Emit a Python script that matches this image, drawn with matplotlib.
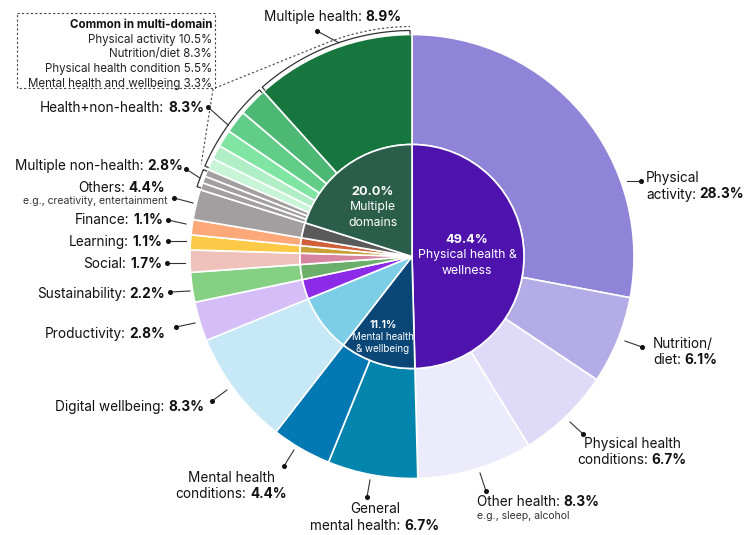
import numpy as np
import matplotlib.pyplot as plt

plt.rcParams["font.family"] = ["Inter", "DejaVu Sans"]

# outer ring, clockwise from 12 o'clock
outer_labels = ["Physical activity", "Nutrition/diet", "Physical health conditions", "Other health",
                "General mental health", "Mental health conditions", "Digital wellbeing", "Productivity",
                "Sustainability", "Social", "Learning", "Finance", "Others",
                "Multiple non-health", "Health+non-health", "Multiple health"]
outer_pct = [28.3, 6.1, 6.7, 8.3, 6.7, 4.4, 8.3, 2.8, 2.2, 1.7, 1.1, 1.1, 4.4, 2.8, 8.3, 8.9]
# arc sizes as drawn in the picture (degrees)
outer_arc = [100.7, 23.0, 24.6, 30.2, 23.6, 15.7, 30.0, 10.3, 7.8, 5.8, 3.9, 4.0, 7.9]
non_health_arc = [1.9, 1.8, 1.9]
health_mix_arc = [3.1, 3.7, 4.5, 6.0, 7.6]
multi_health_arc = 42.0

outer_colors = ["#8f84d8", "#b4ace6", "#dedaf8", "#ebebfb", "#0385ad", "#0478b3", "#c7e8f6",
                "#d5bdf7", "#86d083", "#efc1bb", "#fdca48", "#fda878", "#a39e9f"]
non_health_colors = ["#a39e9f", "#a39e9f", "#a39e9f"]
health_mix_colors = ["#c8f4d8", "#b0eec6", "#80e4a3", "#62cd88", "#4db874"]
multi_health_color = "#17763e"

# inner ring
inner_labels = ["Physical health &\nwellness", "Mental health\n& wellbeing", "Multiple\ndomains"]
inner_pct = [49.4, 11.1, 20.0]
inner_arc = [178.5, 39.3, 30.0, 10.3, 7.8, 5.8, 3.9, 4.0, 7.9, 72.5]
inner_colors = ["#4e13ad", "#0b4776", "#7ccde6", "#8b2be8", "#6caf6a", "#d6849f", "#c9a035",
                "#d0603a", "#5a5a5a", "#2a5e4b"]

common_title = "Common in multi-domain"
common_items = ["Physical activity", "Nutrition/diet", "Physical health condition", "Mental health and wellbeing"]
common_pct = [10.5, 8.3, 5.5, 3.3]

cx, cy = 412, 256.5
R_OUT, R_IN = 222, 112
INK = "#111111"

fig = plt.figure(figsize=(7.44, 5.35), dpi=100)
ax = fig.add_axes([0, 0, 1, 1])

sizes = outer_arc + non_health_arc + health_mix_arc + [multi_health_arc]
cols = outer_colors + non_health_colors + health_mix_colors + [multi_health_color]
# y axis is flipped below, so startangle 270 / counterclock give 12 o'clock / clockwise on screen
ax.pie(sizes, colors=cols, radius=R_OUT, center=(cx, cy), startangle=270, counterclock=True,
       wedgeprops=dict(width=R_OUT - R_IN, edgecolor="white", linewidth=1.2), frame=True)
ax.pie(inner_arc, colors=inner_colors, radius=R_IN, center=(cx, cy), startangle=270, counterclock=True,
       wedgeprops=dict(edgecolor="white", linewidth=1.2), frame=True)

ax.set_xlim(0, 744)
ax.set_ylim(535, 0)
ax.set_aspect("equal")
ax.axis("off")

renderer = fig.canvas.get_renderer()


def rich(x, y, parts, ha="left", size=9.8, color=INK, gap=3.6):
    texts = []
    for s, bold in parts:
        texts.append(ax.text(0, y, s, fontsize=size, color=color, va="baseline", ha="left",
                             fontweight="bold" if bold else "normal"))
    widths = [t.get_window_extent(renderer).width for t in texts]
    total = sum(widths) + gap * (len(texts) - 1)
    start = {"left": x, "right": x - total, "center": x - total / 2}[ha]
    for t, w in zip(texts, widths):
        t.set_x(start)
        start += w + gap


def pt(c, r):
    a = np.radians(c)
    return cx + r * np.sin(a), cy - r * np.cos(a)


def bracket(c0, c1, r=226, tick=3.5):
    a = np.linspace(c0 + 0.5, c1 - 0.5, 80)
    xs, ys = pt(a, r)
    x0, y0 = pt(a[0], r - tick)
    x1, y1 = pt(a[-1], r - tick)
    ax.plot(np.r_[x0, xs, x1], np.r_[y0, ys, y1], color="#333333", lw=0.9, solid_joinstyle="round")


cum = np.cumsum([0] + sizes)
n0 = len(outer_arc)
mnh = (cum[n0], cum[n0 + 3])
hnh = (cum[n0 + 3], cum[n0 + 8])
mh = (cum[n0 + 8], cum[-1])
bracket(*mnh)
bracket(*hnh)
bracket(*mh)


def leader(p0, p1):
    ax.plot([p0[0], p1[0]], [p0[1], p1[1]], color="#333333", lw=0.8)
    ax.plot(p1[0], p1[1], "o", color=INK, ms=2.6)


# label layout: name lines, x, baseline y, alignment, leader start, leader end (dot)
layout = [
    (["Physical", "activity:"], 646, 182, "left", (627, 181), (641, 181)),
    (["Nutrition/", "diet:"], 653, 348, "left", (625, 341), (642, 347)),
    (["Physical health", "conditions:"], 632, 448, "center", (570, 422), (583, 434)),
    (["Other health:"], 477, 506, "left", (480, 473), (486, 491)),
    (["General", "mental health:"], 375, 513, "center", (370, 480), (367, 497)),
    (["Mental health", "conditions:"], 231, 482, "center", (294, 450), (284, 466)),
    (["Digital wellbeing:"], 204, 411, "right", (227, 390), (212, 401)),
    (["Productivity:"], 165, 338, "right", (195, 323), (176, 327)),
    (["Sustainability:"], 165, 298, "right", (190, 291), (170, 292)),
    (["Social:"], 162, 268, "right", (185, 263), (167, 263)),
    (["Learning:"], 162, 246, "right", (186, 241), (168, 241)),
    (["Finance:"], 163, 224, "right", (186, 224), (168, 220)),
    (["Others:"], 165, 192, "right", (193, 203), (174, 198)),
    (["Multiple non-health:"], 183, 170, "right", pt(np.mean(mnh), 226), (186, 169)),
    (["Health+non-health:"], 204, 112, "right", pt(np.mean(hnh), 226), (208, 107)),
    (["Multiple health:"], 333, 21, "center", pt(mh[0] + 0.55 * (mh[1] - mh[0]), 226), (317, 31)),
]
for (lines, x, y, ha, p0, p1), pct in zip(layout, outer_pct):
    for i, line in enumerate(lines):
        parts = [(line, False)]
        if i == len(lines) - 1:
            parts.append((f"{pct}%", True))
        rich(x, y + i * 16.5, parts, ha=ha)
    leader(p0, p1)

ax.text(477, 519, "e.g., sleep, alcohol", fontsize=7.5, color="#333333", ha="left", va="baseline")
ax.text(168, 204, "e.g., creativity, entertainment", fontsize=7.5, color="#333333", ha="right", va="baseline")

# inner labels
inner_pos = [(467, 243, 8.8), (383, 328, 7.0), (373, 195, 8.8)]
for (x, y, fs), name, pct in zip(inner_pos, inner_labels, inner_pct):
    ax.text(x, y, f"{pct}%", fontsize=fs + 0.4, fontweight="bold", color="white", ha="center", va="baseline")
    for i, line in enumerate(name.split("\n")):
        ax.text(x, y + (i + 1) * (fs * 1.75), line, fontsize=fs, color="white", ha="center", va="baseline")

# multi-domain note box
ax.add_patch(plt.Rectangle((17, 13), 198, 75, fill=False, ls=(0, (2, 2)), lw=0.8, ec="#444444"))
ax.text(212, 28, common_title, fontsize=8.3, fontweight="bold", color=INK, ha="right", va="baseline")
for i, (name, pct) in enumerate(zip(common_items, common_pct)):
    ax.text(212, 43 + i * 14.5, f"{name} {pct}%", fontsize=8.3, color="#222222", ha="right", va="baseline")

# dotted connectors from the box to the bracketed arc
a = np.linspace(338, 359.5, 30)
xs, ys = pt(a, 230)
ax.plot(np.r_[215, xs], np.r_[88, ys], color="#444444", lw=0.8, ls=(0, (2, 2)))
ex, ey = pt(hnh[0] + 0.5, 230)
ax.plot([213, ex], [89, ey], color="#444444", lw=0.8, ls=(0, (2, 2)))

fig.savefig("out.png", dpi=100)
